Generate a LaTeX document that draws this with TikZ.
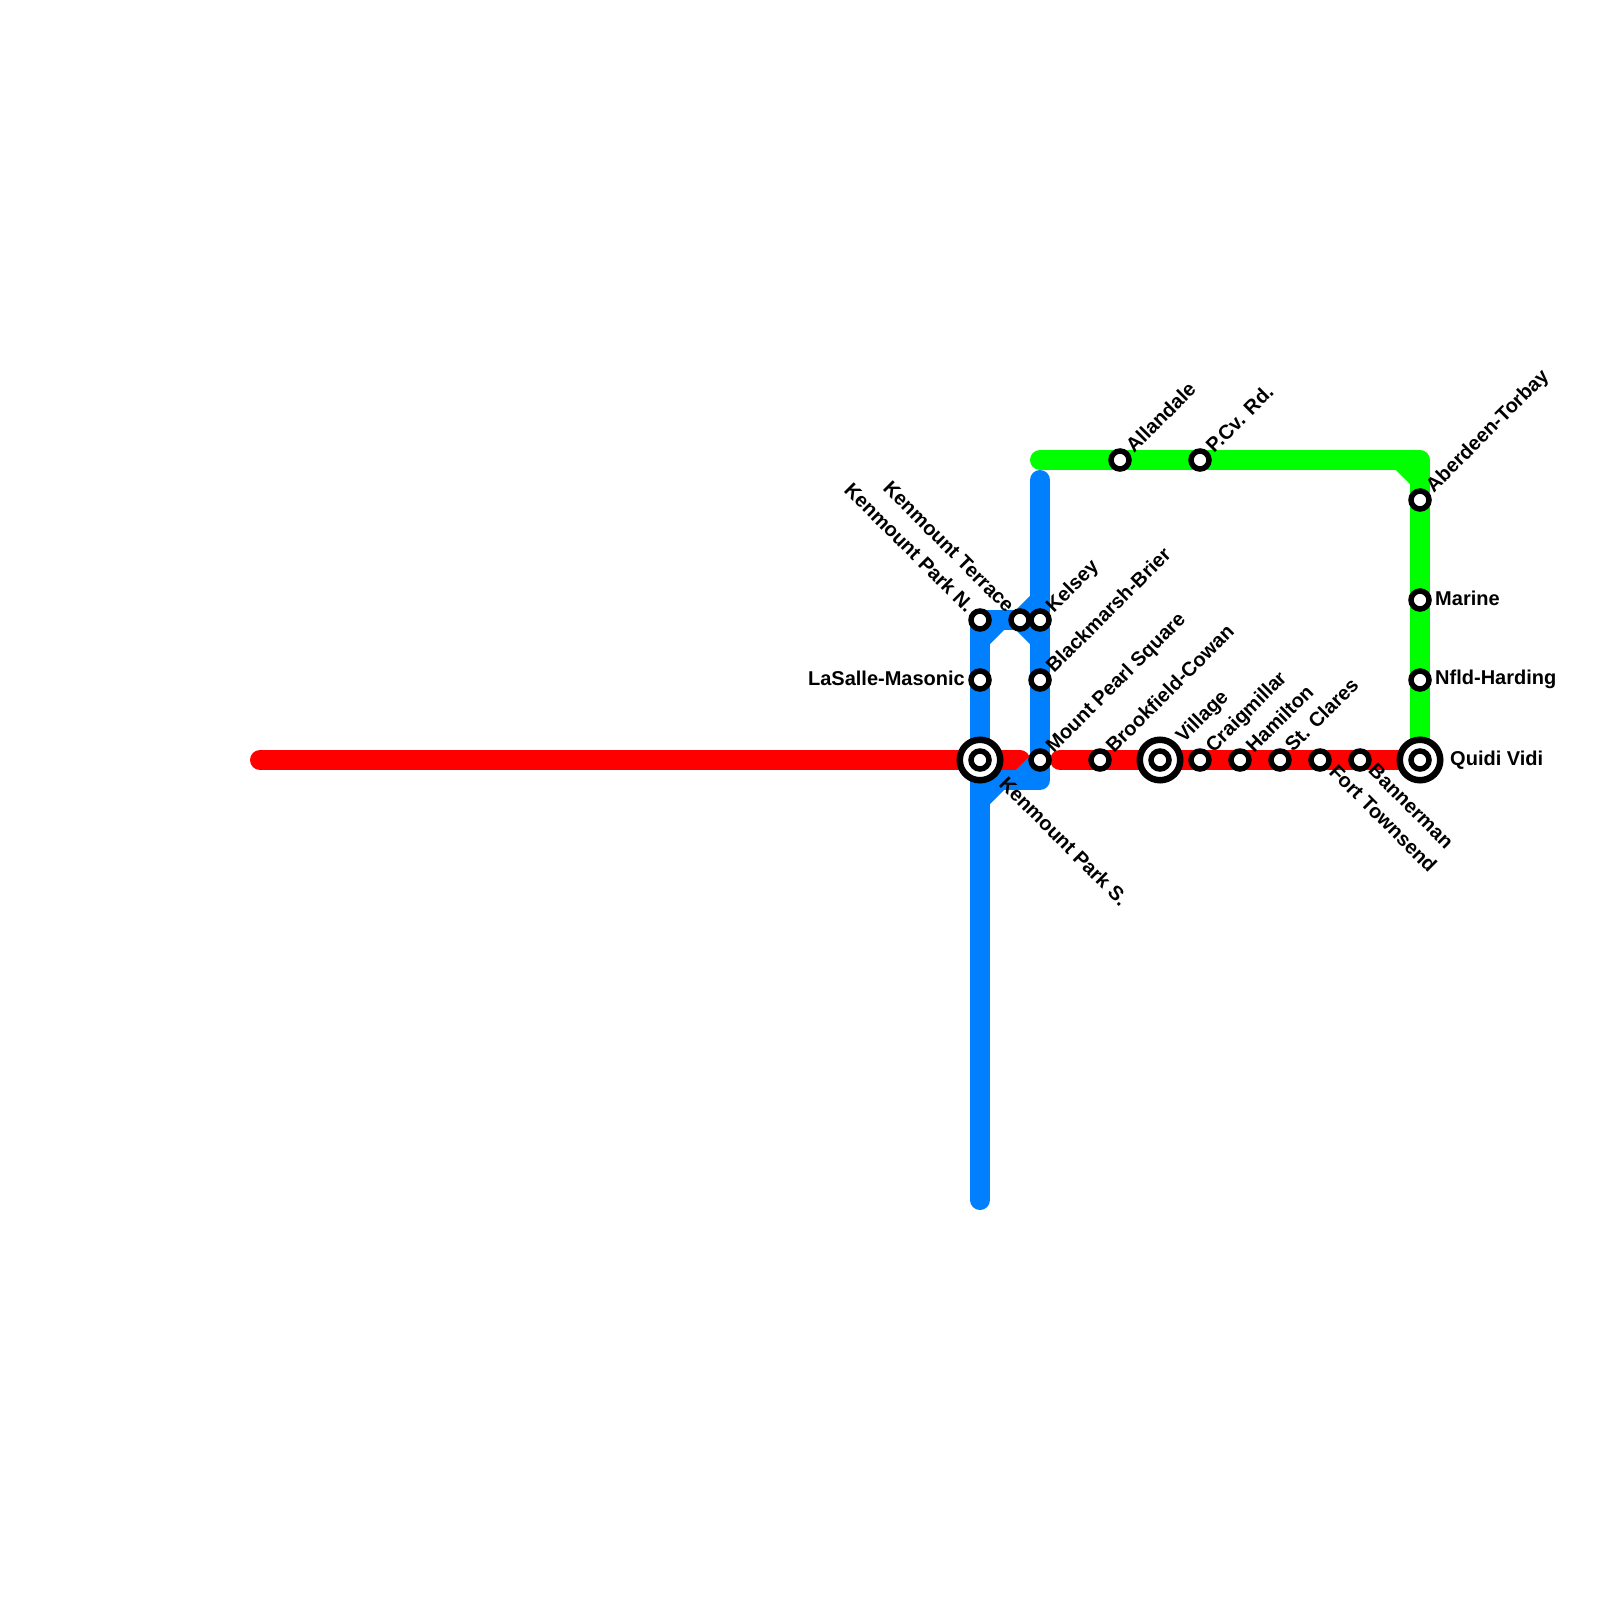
\documentclass[tikz,border=0pt]{standalone}
\usepackage{fontspec}
\setmainfont{Liberation Sans}
\begin{document}
\begin{tikzpicture}[x=1pt,y=-1pt,
  route/.style={line width=20pt,line cap=round,line join=round},
  redline/.style={route,draw={rgb,255:red,255;green,0;blue,0}},
  greenline/.style={route,draw={rgb,255:red,0;green,255;blue,0}},
  blueline/.style={route,draw={rgb,255:red,0;green,128;blue,255}},
  stop/.style={circle,draw=black,fill=white,line width=5.5pt,minimum size=18pt,inner sep=0pt,outer sep=0pt},
  hubring/.style={circle,draw=black,fill=white,line width=6.5pt,minimum size=40.5pt,inner sep=0pt,outer sep=0pt},
  lbl/.style={font=\fontsize{20}{22}\selectfont\bfseries,inner sep=0pt,text=black},
  up/.style={lbl,rotate=45,anchor=west},
  down/.style={lbl,rotate=-45,anchor=west},
  upleft/.style={lbl,rotate=-45,anchor=east}]
\useasboundingbox (0,0) rectangle (1600,1600);
% way points
\coordinate (rA) at (260,760); \coordinate (rB) at (1020,760);
\coordinate (rC) at (1060,760); \coordinate (rD) at (1420,760);
\coordinate (gA) at (1040,460); \coordinate (gB) at (1420,460);
\coordinate (gC) at (1400,460); \coordinate (gD) at (1420,480);
\coordinate (bA) at (980,1200); \coordinate (bB) at (980,800);
\coordinate (bC) at (1000,780); \coordinate (bD) at (1040,780);
\coordinate (bE) at (1040,640); \coordinate (bF) at (1020,620);
\coordinate (bG) at (1000,620); \coordinate (bH) at (980,640);
\coordinate (bJ) at (1040,480);
\coordinate (bK) at (1040,600); \coordinate (bL) at (980,620);
\coordinate (bM) at (1040,760); \coordinate (bN) at (1020,780);
% lines
\draw[greenline] (gA) -- (gB) -- (rD);
\draw[greenline] (gC) -- (gD);
\draw[redline] (rA) -- (rB);
\draw[redline] (rC) -- (rD);
\draw[blueline] (bA) -- (bL) -- (bF);
\draw[blueline] (bJ) -- (bD) -- (bC);
\draw[blueline] (bB) -- (bC);
\draw[blueline] (bH) -- (bG);
\draw[blueline] (bF) -- (bE);
\draw[blueline] (bK) -- (bF);
\draw[blueline] (bM) -- (bN);
% stations
\node[stop] (s1) at (980,620) {};
\node[stop] (s2) at (1020,620) {};
\node[stop] (s3) at (1040,620) {};
\node[stop] (s4) at (980,680) {};
\node[stop] (s5) at (1040,680) {};
\node[hubring] (h1) at (980,760) {};
\node[stop] (s6) at (980,760) {};
\node[stop] (s7) at (1040,760) {};
\node[stop] (s8) at (1100,760) {};
\node[hubring] (h2) at (1160,760) {};
\node[stop] (s9) at (1160,760) {};
\node[stop] (s10) at (1200,760) {};
\node[stop] (s11) at (1240,760) {};
\node[stop] (s12) at (1280,760) {};
\node[stop] (s13) at (1320,760) {};
\node[stop] (s14) at (1360,760) {};
\node[hubring] (h3) at (1420,760) {};
\node[stop] (s15) at (1420,760) {};
\node[stop] (s16) at (1420,680) {};
\node[stop] (s17) at (1420,600) {};
\node[stop] (s18) at (1420,500) {};
\node[stop] (s19) at (1120,460) {};
\node[stop] (s20) at (1200,460) {};
% labels
\node[upleft] (l1) at ([shift={(-9,-11)}]s1.center) {Kenmount Park N.};
\node[upleft] (l2) at ([shift={(-9,-11)}]s2.center) {Kenmount Terrace};
\node[up] (l3) at ([shift={(10,-10)}]s3.center) {Kelsey};
\node[lbl,anchor=east] (l4) at (965,678) {LaSalle-Masonic};
\node[up] (l5) at ([shift={(9,-11)}]s5.center) {Blackmarsh-Brier};
\node[down] (l6) at (1003,780) {Kenmount Park S.};
\node[up] (l7) at ([shift={(10,-10)}]s7.center) {Mount Pearl Square};
\node[up] (l8) at ([shift={(9,-11)}]s8.center) {Brookfield-Cowan};
\node[up] (l9) at ([shift={(20,-20)}]s9.center) {Village};
\node[up] (l10) at ([shift={(10,-10)}]s10.center) {Craigmillar};
\node[up] (l11) at ([shift={(9,-11)}]s11.center) {Hamilton};
\node[up] (l12) at ([shift={(8,-12)}]s12.center) {St. Clares};
\node[down] (l13) at ([shift={(13,8)}]s13.center) {Fort Townsend};
\node[down] (l14) at ([shift={(12,7)}]s14.center) {Bannerman};
\node[lbl,anchor=west] (l15) at (1450,760) {Quidi Vidi};
\node[lbl,anchor=west] (l16) at (1435,679) {Nfld-Harding};
\node[lbl,anchor=west] (l17) at (1435,598) {Marine};
\node[up] (l18) at ([shift={(10,-10)}]s18.center) {Aberdeen-Torbay};
\node[up] (l19) at ([shift={(9,-11)}]s19.center) {Allandale};
\node[up] (l20) at ([shift={(9,-11)}]s20.center) {P.Cv. Rd.};
\end{tikzpicture}
\end{document}
